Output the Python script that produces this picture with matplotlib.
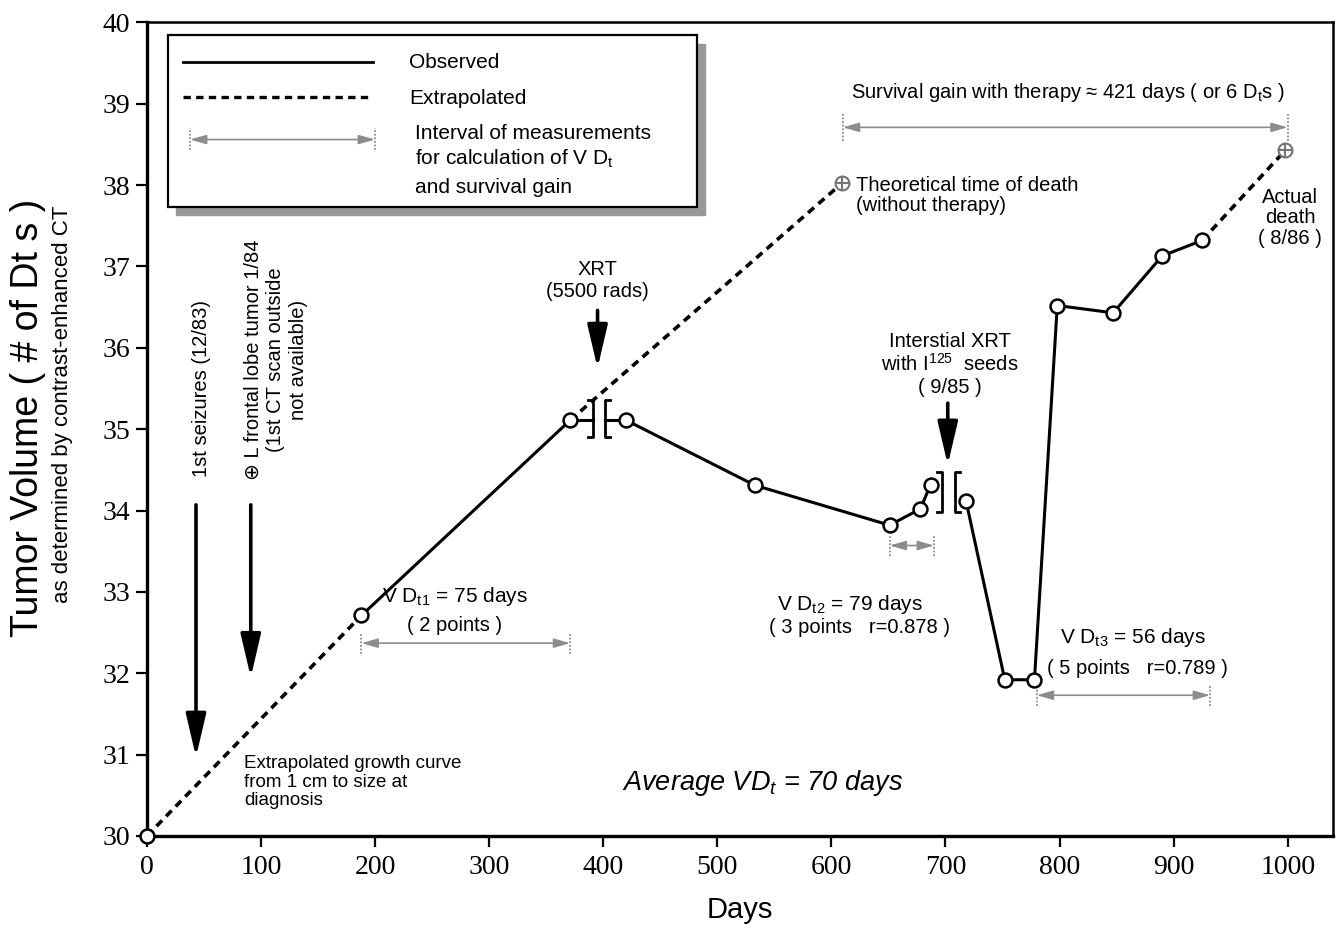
import matplotlib
matplotlib.use('Agg')
import matplotlib.pyplot as plt
from matplotlib.patches import Rectangle

plt.rcParams.update({
    'font.family': ['Liberation Sans', 'DejaVu Sans'],
    'mathtext.fontset': 'custom',
    'mathtext.rm': 'Liberation Sans',
    'mathtext.it': 'Liberation Sans:italic',
    'mathtext.default': 'regular',
    'font.size': 14.5,
})

# observed CT measurements: days vs tumour volume (# of Dt s)
obs_days = [188, 371, 420, 533, 651, 678, 687, 718, 752, 778, 798, 847, 890, 925]
obs_vol = [32.71, 35.11, 35.11, 34.31, 33.82, 34.02, 34.32, 34.12,
           31.92, 31.92, 36.52, 36.43, 37.13, 37.32]
segments = [(0, 2), (2, 7), (7, 14)]   # line breaks at XRT and at the seeds

start_day, start_vol = 0, 30.0
theo_death_day, theo_death_vol = 609, 38.02
death_day, death_vol = 998, 38.43

# event arrows: (day, top, tip)
seizure_arrow = (43, 34.07, 30.97)
ct_arrow = (91, 34.07, 31.95)
xrt_arrow = (395, 36.46, 35.75)
seed_arrow = (702, 35.32, 34.56)

# measurement intervals: (from, to, y)
dt1_interval = (188, 371, 32.37)
dt2_interval = (651, 690, 33.57)
dt3_interval = (780, 932, 31.73)
gain_interval = (610, 1000, 38.71)

x_ticks = list(range(0, 1001, 100))
y_ticks = list(range(30, 41))

fig = plt.figure(figsize=(13.36, 9.33), dpi=100)
ax = fig.add_axes([0.110, 0.104, 0.888, 0.872])
ax.set_xlim(0, 1040)
ax.set_ylim(30, 40)

grey = '0.55'


def interval(x0, x1, y, h=0.13):
    ax.annotate('', xy=(x1, y), xytext=(x0, y),
                arrowprops=dict(arrowstyle='<|-|>,head_length=0.7,head_width=0.2',
                                color=grey, lw=1.2, mutation_scale=14,
                                shrinkA=0, shrinkB=0))
    for x in (x0, x1):
        ax.plot([x, x], [y - h, y + h], color=grey, lw=1.3, ls=(0, (1, 1)))


def big_arrow(x, y0, y1):
    ax.annotate('', xy=(x, y1), xytext=(x, y0),
                arrowprops=dict(arrowstyle='-|>,head_length=1.2,head_width=0.28',
                                color='k', lw=2.6, mutation_scale=22,
                                shrinkA=0, shrinkB=0))


def brackets(xr, xl, ylo, yhi, w=4.4):
    ax.plot([xr - w, xr, xr, xr - w], [yhi, yhi, ylo, ylo], color='k', lw=2)
    ax.plot([xl + w, xl, xl, xl + w], [yhi, yhi, ylo, ylo], color='k', lw=2)


dash = (0, (2.2, 1.6))
line_kw = dict(color='k', lw=2.2)
mark_kw = dict(marker='o', ms=10, mfc='white', mec='k', mew=1.8, zorder=4)

# extrapolated parts
ax.plot([start_day, obs_days[0]], [start_vol, obs_vol[0]], ls=dash, color='k', lw=2.6)
ax.plot([obs_days[1], theo_death_day], [obs_vol[1], theo_death_vol], ls=dash, color='k', lw=2.6)
ax.plot([obs_days[-1], death_day], [obs_vol[-1], death_vol], ls=dash, color='k', lw=2.6)

# observed parts
for a, b in segments:
    ax.plot(obs_days[a:b], obs_vol[a:b], **line_kw)
ax.plot(obs_days, obs_vol, ls='none', **mark_kw)
ax.plot([start_day], [start_vol], ls='none', clip_on=False, **mark_kw)

# breaks at therapies
brackets(391, 401.4, 34.9, 35.36)
ax.plot([obs_days[1], 391], [obs_vol[1], obs_vol[1]], **line_kw)
ax.plot([401.4, obs_days[2]], [obs_vol[2], obs_vol[2]], **line_kw)
brackets(696.7, 708, 33.98, 34.47)

# death markers
for d, v in [(theo_death_day, theo_death_vol), (death_day, death_vol)]:
    ax.plot([d], [v], marker='o', ms=10, mfc='white', mec='0.45', mew=1.5, zorder=5)
    ax.plot([d], [v], marker='+', ms=10, mec='0.45', mew=1.5, zorder=6)

for arr in (seizure_arrow, ct_arrow, xrt_arrow, seed_arrow):
    big_arrow(*arr)
for iv in (dt1_interval, dt2_interval, dt3_interval):
    interval(*iv)
interval(*gain_interval, h=0.17)

# legend box with shadow
ax.add_patch(Rectangle((25.4, 37.63), 463.6, 2.11, color='0.6', zorder=4))
ax.add_patch(Rectangle((18.4, 37.73), 463.6, 2.11, facecolor='white',
                       edgecolor='k', lw=1.6, zorder=5))
ax.plot([31.6, 198], [39.51, 39.51], color='k', lw=2, zorder=6)
ax.plot([31.6, 198], [39.08, 39.08], color='k', lw=2.4, ls=dash, zorder=6)
ax.annotate('', xy=(200, 38.56), xytext=(37.7, 38.56), zorder=6,
            arrowprops=dict(arrowstyle='<|-|>,head_length=0.7,head_width=0.2',
                            color=grey, lw=1.2, mutation_scale=14, shrinkA=0, shrinkB=0))
for x in (37.7, 200):
    ax.plot([x, x], [38.43, 38.7], color=grey, lw=1.3, ls=(0, (1, 1)), zorder=6)
leg_kw = dict(fontsize=15, va='center', ha='left', zorder=7)
ax.text(230, 39.51, 'Observed', **leg_kw)
ax.text(230, 39.06, 'Extrapolated', **leg_kw)
ax.text(235, 38.64, 'Interval of measurements', **leg_kw)
ax.text(235, 38.32, 'for calculation of V D$_t$', **leg_kw)
ax.text(235, 37.97, 'and survival gain', **leg_kw)

# annotations
ax.text(48, 35.5, '1st seizures (12/83)', rotation=90, ha='center', va='center')
ax.text(113, 35.85, '\u2295 L frontal lobe tumor 1/84\n(1st CT scan outside\nnot available)',
        rotation=90, ha='center', va='center', multialignment='center', linespacing=1.25)
ax.text(395, 36.83, 'XRT\n(5500 rads)', ha='center', va='center', linespacing=1.2)
ax.text(704, 35.8, 'Interstial XRT\nwith I$^{125}$  seeds\n( 9/85 )',
        ha='center', va='center', linespacing=1.15)
ax.text(622, 37.87, 'Theoretical time of death\n(without therapy)',
        ha='left', va='center', linespacing=1.1)
ax.text(807, 39.14, 'Survival gain with therapy \u2248 421 days ( or 6 D$_t$s )',
        ha='center', va='center')
ax.text(1002, 37.6, 'Actual\ndeath\n( 8/86 )', ha='center', va='center', linespacing=1.1)
ax.text(270, 32.94, 'V D$_{t1}$ = 75 days', ha='center', va='center', fontsize=15)
ax.text(270, 32.59, '( 2 points )', ha='center', va='center')
ax.text(616, 32.84, 'V D$_{t2}$ = 79 days', ha='center', va='center', fontsize=15)
ax.text(625, 32.56, '( 3 points   r=0.878 )', ha='center', va='center')
ax.text(864, 32.44, 'V D$_{t3}$ = 56 days', ha='center', va='center', fontsize=15)
ax.text(868, 32.06, '( 5 points   r=0.789 )', ha='center', va='center')
ax.text(85, 30.99, 'Extrapolated growth curve\nfrom 1 cm to size at\ndiagnosis',
        ha='left', va='top', linespacing=1.1, fontsize=13.5)
ax.text(540, 30.65, 'Average VD$_t$ = 70 days', fontsize=19.5, style='italic',
        ha='center', va='center')

# axes styling
ax.set_xticks(x_ticks, [str(t) for t in x_ticks], fontfamily='Liberation Serif', fontsize=20)
ax.set_yticks(y_ticks, [str(t) for t in y_ticks], fontfamily='Liberation Serif', fontsize=20)
ax.tick_params(direction='out', length=8, width=1.6, color='k')
ax.tick_params(axis='x', pad=6)
ax.tick_params(axis='y', pad=4)
for side in ('left', 'bottom'):
    ax.spines[side].set_linewidth(2.4)
for side in ('top', 'right'):
    ax.spines[side].set_linewidth(1.8)

narrow = ['Liberation Sans Narrow', 'Liberation Sans']
fig.text(0.021, 0.552, 'Tumor Volume ( # of Dt s )', rotation=90, fontsize=27,
         family=narrow, ha='center', va='center')
fig.text(0.047, 0.567, 'as determined by contrast-enhanced CT', rotation=90, fontsize=16,
         family=narrow, ha='center', va='center')
fig.text(0.554, 0.025, 'Days', fontsize=21, family=narrow, ha='center', va='center')

fig.savefig('out.png', dpi=100)
